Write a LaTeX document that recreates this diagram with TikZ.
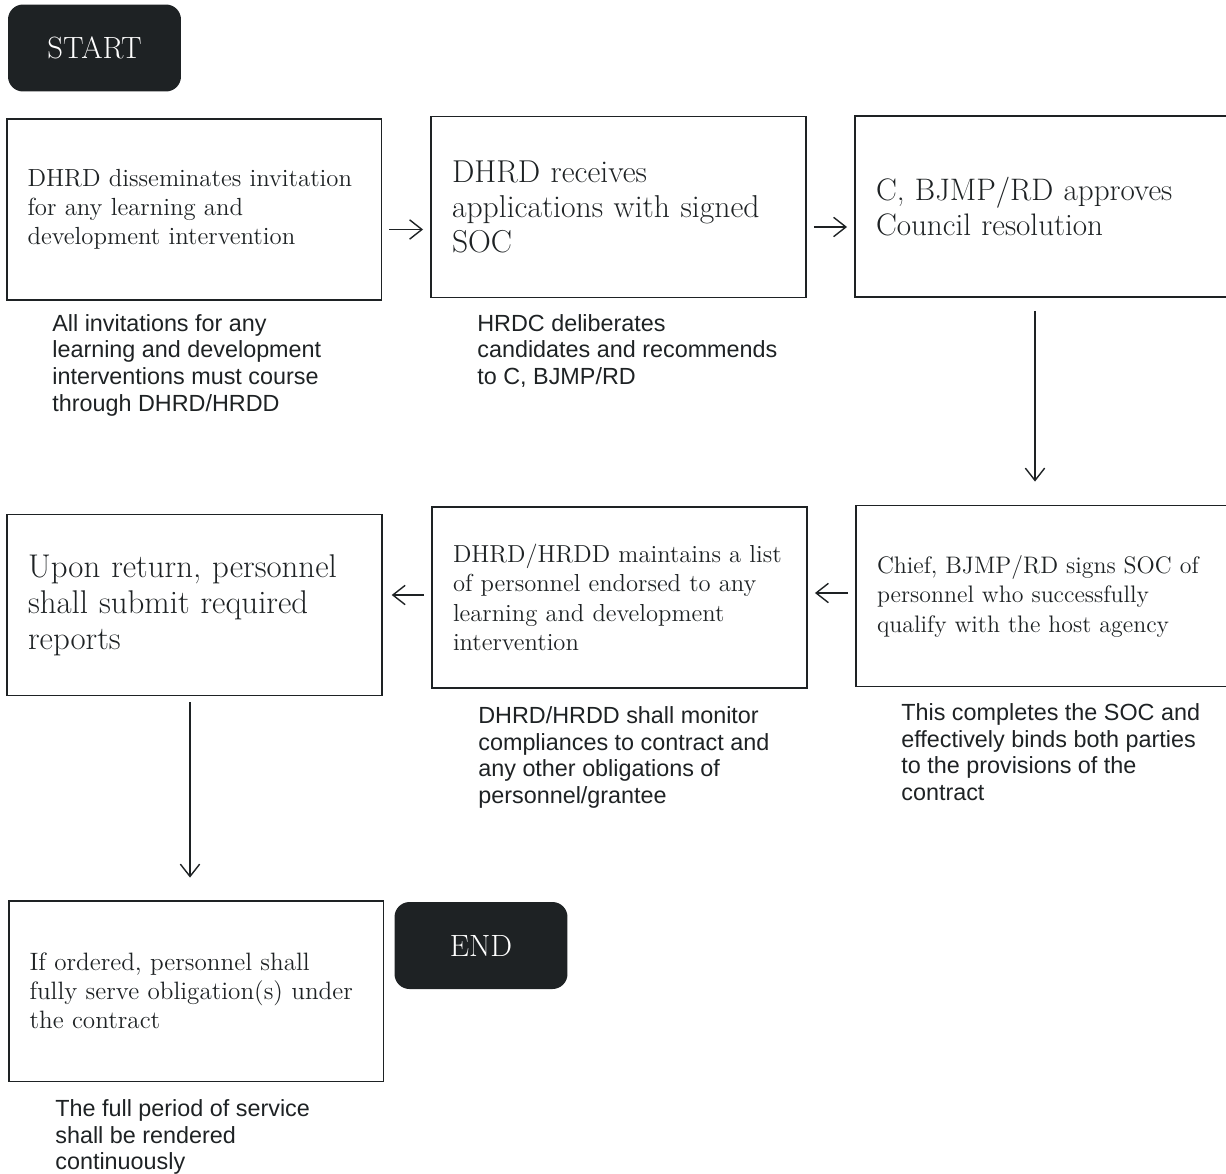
\documentclass[tikz,border=0pt]{standalone}
\usepackage{fontspec}
\newfontfamily\notefont{Liberation Sans}
\usetikzlibrary{arrows.meta}
\definecolor{ink}{HTML}{1E2224}
\tikzset{
  box/.style={draw=ink, line width=1.1pt, rectangle, text=ink, align=left,
    text width=6.66cm, inner xsep=0.42cm, minimum height=3.62cm},
  term/.style={rectangle, rounded corners=0.3cm, fill=ink, text=white,
    minimum width=3.46cm, minimum height=1.74cm, font=\fontsize{17.5}{20}\selectfont},
  note/.style={anchor=north west, inner sep=0pt, align=left, text=ink,
    font=\notefont\fontsize{13.3}{15.2}\selectfont},
  arr/.style={draw=ink, line width=0.8pt, -{Straight Barb[length=7pt,width=11pt]}},
}
\begin{document}
\begin{tikzpicture}[x=0.02cm, y=-0.02cm]
    \useasboundingbox (0,0) rectangle (1226,1173);
    % terminals
    \node[term] (start) at (94.5,48) {START};
    \node[term] (end) at (481,945.5) {END};
    % top row
    \node[box, font=\fontsize{14.1}{16.5}\selectfont] (b1) at (194,209.5)
      {DHRD disseminates invitation\\for any learning and\\development intervention};
    \node[box, font=\fontsize{18}{20}\selectfont] (b2) at (618.5,207)
      {DHRD receives\\applications with signed\\SOC};
    \node[box, font=\fontsize{17.7}{20}\selectfont] (b3) at (1042.5,206.5)
      {C, BJMP/RD approves\\Council resolution};
    % middle row
    \node[box, font=\fontsize{13.6}{16.8}\selectfont] (b4) at (1043.5,596)
      {Chief, BJMP/RD signs SOC of\\personnel who successfully\\qualify with the host agency};
    \node[box, font=\fontsize{14}{16.8}\selectfont] (b5) at (619.5,597.5)
      {DHRD/HRDD maintains a list\\of personnel endorsed to any\\learning and development\\intervention};
    \node[box, font=\fontsize{18.7}{20.5}\selectfont] (b6) at (194.5,605)
      {Upon return, personnel\\shall submit required\\reports};
    % bottom row
    \node[box, font=\fontsize{14.3}{16.5}\selectfont] (b7) at (196,991)
      {If ordered, personnel shall\\fully serve obligation(s) under\\the contract};
    % notes
    \node[note] (n1) at (52,314) {All invitations for any\\learning and development\\interventions must course\\through DHRD/HRDD};
    \node[note] (n2) at (477,314) {HRDC deliberates\\candidates and recommends\\to C, BJMP/RD};
    \node[note] (n4) at (901,703) {This completes the SOC and\\effectively binds both parties\\to the provisions of the\\contract};
    \node[note] (n5) at (478,706) {DHRD/HRDD shall monitor\\compliances to contract and\\any other obligations of\\personnel/grantee};
    \node[note] (n7) at (55,1099) {The full period of service\\shall be rendered\\continuously};
    % connectors
    \draw[arr, shorten <=4, shorten >=4] ([yshift=-0.4cm]b1.east) -- ([yshift=-0.4cm]b1.east -| b2.west);
    \draw[arr, shorten <=4, shorten >=4] ([yshift=-0.4cm]b2.east) -- ([yshift=-0.4cm]b2.east -| b3.west);
    \draw[arr, shorten <=0.26cm, shorten >=0.46cm] ([xshift=-0.15cm]b3.south) -- ([xshift=-0.15cm]b3.south |- b4.north);
    \draw[arr, shorten <=4, shorten >=4] ([yshift=0.06cm]b4.west) -- ([yshift=0.06cm]b4.west -| b5.east);
    \draw[arr, shorten <=4, shorten >=5] ([yshift=0.05cm]b5.west) -- ([yshift=0.05cm]b5.west -| b6.east);
    \draw[arr, shorten <=0.12cm, shorten >=0.44cm] ([xshift=-0.09cm]b6.south) -- ([xshift=-0.09cm]b6.south |- b7.north);
\end{tikzpicture}
\end{document}
